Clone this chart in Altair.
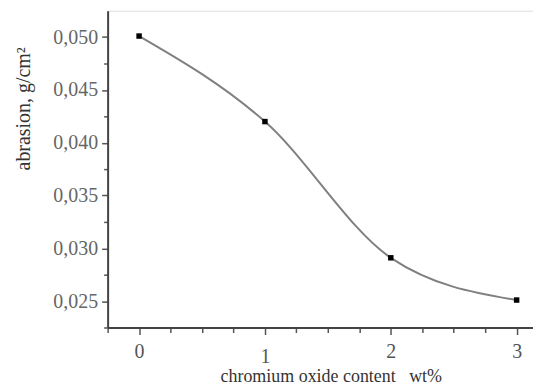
import altair as alt
import pandas as pd

content = [0, 1, 2, 3]
abrasion = [0.0501, 0.0420, 0.0291, 0.0251]

df = pd.DataFrame({"content": content, "abrasion": abrasion})

x_ticks = [-0.25 + 0.25 * i for i in range(14)]
y_ticks = [0.0225 + 0.0025 * i for i in range(12)]

FONT = "Liberation Serif"

x = alt.X(
    "content:Q",
    scale=alt.Scale(domain=[-0.25, 3.13], nice=False, zero=False),
    axis=alt.Axis(
        values=x_ticks,
        title="chromium oxide content\u00a0\u00a0\u00a0wt%",
        titleFont=FONT, titleFontSize=18, titleFontWeight="normal", titleColor="#333",
        titleX=224, titleY=49, titleBaseline="middle",
        labelFont=FONT, labelFontSize=20, labelColor="#555",
        labelExpr="abs(datum.value - round(datum.value)) < 0.01 ? format(datum.value, 'd') : ''",
        labelPadding={"condition": {"test": "abs(datum.value - 1) < 0.01", "value": 12}, "value": 7},
        tickSize={"condition": {"test": "abs(datum.value - round(datum.value)) < 0.01", "value": 7}, "value": 5},
        tickColor="#555", tickWidth=1.5,
        domainColor="#444", domainWidth=2,
        grid=False, labelFlush=False, labelOverlap=False,
    ),
)

y = alt.Y(
    "abrasion:Q",
    scale=alt.Scale(domain=[0.0225, 0.0525], nice=False, zero=False),
    axis=alt.Axis(
        values=y_ticks,
        title="abrasion, g/cm²",
        titleFont=FONT, titleFontSize=20, titleFontWeight="normal", titleColor="#333",
        titleX=-84, titleY=98, titleBaseline="middle", titleAngle=-90,
        labelFont=FONT, labelFontSize=20, labelColor="#666",
        labelExpr="round(datum.value * 400) % 2 == 0 ? replace(format(datum.value, '.3f'), '.', ',') : ''",
        tickSize={"condition": {"test": "round(datum.value * 400) % 2 == 0", "value": 6}, "value": 4},
        tickColor="#555", tickWidth=1.5,
        labelPadding=4,
        domainColor="#444", domainWidth=2,
        grid=False, labelFlush=False, labelOverlap=False,
    ),
)

line = alt.Chart(df).mark_line(interpolate="monotone", color="#808080", strokeWidth=2).encode(x=x, y=y)
pts = alt.Chart(df).mark_square(color="black", size=30, opacity=1).encode(x=x, y=y)

chart = (
    alt.layer(line, pts)
    .properties(width=427, height=318, padding={"left": 5, "top": 2, "right": 0, "bottom": 0})
    .configure_view(stroke=None)
    .configure(background="white")
)

chart.save("out.html", embed_options={"renderer": "svg", "actions": False})
